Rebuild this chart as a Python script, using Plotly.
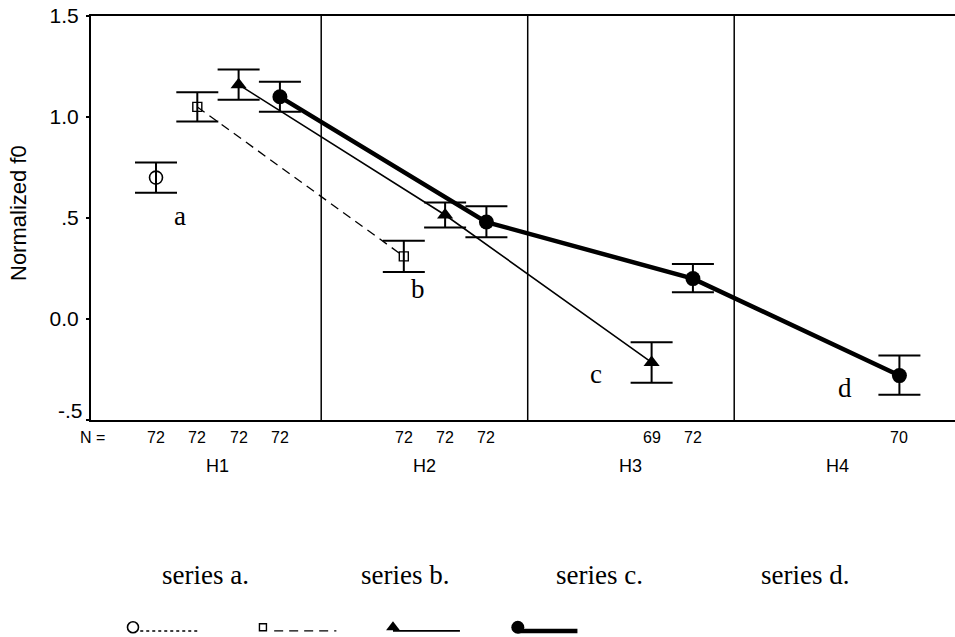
import plotly.graph_objects as go

# ---- data ----
groups = ["H1", "H2", "H3", "H4"]
series_names = ["a", "b", "c", "d"]
series_groups = {          # group index for each point of each series
    "a": [0],
    "b": [0, 1],
    "c": [0, 1, 2],
    "d": [0, 1, 2, 3],
}
means = {
    "a": [0.70],
    "b": [1.05, 0.31],
    "c": [1.16, 0.515, -0.215],
    "d": [1.10, 0.48, 0.20, -0.28],
}
err_up = {
    "a": [0.075],
    "b": [0.072, 0.077],
    "c": [0.075, 0.062, 0.100],
    "d": [0.074, 0.078, 0.072, 0.100],
}
err_down = {
    "a": [0.075],
    "b": [0.072, 0.077],
    "c": [0.075, 0.062, 0.100],
    "d": [0.074, 0.075, 0.068, 0.095],
}
n_counts = {
    "a": [72],
    "b": [72, 72],
    "c": [72, 72, 69],
    "d": [72, 72, 72, 70],
}
y_ticks = [-0.5, 0.0, 0.5, 1.0, 1.5]
y_ticklabels = ["-.5", "0.0", ".5", "1.0", "1.5"]

# ---- style ----
SANS = "Liberation Sans, Arial, sans-serif"
SERIF = "Liberation Serif, Times New Roman, serif"
SLOTS_PER_GROUP = 5
DOM_BOTTOM = 0.3494
styles = {
    "a": dict(symbol="circle-open", size=13, lw=1.5, dash="dot", mlw=1.6),
    "b": dict(symbol="square-open", size=9, lw=1.3, dash="9px,6px", mlw=1.4),
    "c": dict(symbol="triangle-up", size=14, lw=1.6, dash="solid", mlw=0),
    "d": dict(symbol="circle", size=15, lw=4.5, dash="solid", mlw=0),
}
label_shift = {"a": (24, -38), "b": (14, -33), "c": (-56, -12), "d": (-54, -12)}

def xpos(s, g):
    return SLOTS_PER_GROUP * g + series_names.index(s)

fig = go.Figure()
for s in series_names:
    st = styles[s]
    xs = [xpos(s, g) for g in series_groups[s]]
    fig.add_trace(go.Scatter(
        x=xs, y=means[s], mode="lines+markers",
        line=dict(color="black", width=st["lw"], dash=st["dash"]),
        marker=dict(symbol=st["symbol"], size=st["size"], color="black",
                    line=dict(color="black", width=st["mlw"])),
        error_y=dict(type="data", symmetric=False, array=err_up[s],
                     arrayminus=err_down[s], color="black", thickness=2, width=21),
        showlegend=False, cliponaxis=False,
    ))

annotations = []
for s in series_names:
    g = series_groups[s][-1]
    dx, dy = label_shift[s]
    annotations.append(dict(x=xpos(s, g), y=means[s][-1], xref="x", yref="y",
                            text=s, showarrow=False, xshift=dx, yshift=dy,
                            xanchor="center", yanchor="middle",
                            font=dict(family=SERIF, size=27, color="black")))
annotations.append(dict(x=-0.015, y=-0.5, xref="paper", yref="y", text="N =",
                        showarrow=False, xanchor="left", yanchor="middle", yshift=-17,
                        font=dict(family=SANS, size=16, color="black")))
for s in series_names:
    for g, n in zip(series_groups[s], n_counts[s]):
        annotations.append(dict(x=xpos(s, g), y=-0.5, xref="x", yref="y",
                                text=str(n), showarrow=False, yshift=-17,
                                xanchor="center", yanchor="middle",
                                font=dict(family=SANS, size=16, color="black")))
for gi, gname in enumerate(groups):
    annotations.append(dict(x=SLOTS_PER_GROUP * gi + 1.5, y=-0.5, xref="x", yref="y",
                            text=gname, showarrow=False, yshift=-46,
                            xanchor="center", yanchor="middle",
                            font=dict(family=SANS, size=18, color="black")))
annotations.append(dict(x=-0.0845, y=0.5, xref="paper", yref="y",
                        text="Normalized f0", textangle=-90, showarrow=False,
                        xanchor="center", yanchor="middle", yshift=5,
                        font=dict(family=SANS, size=22, color="black")))
# the lowest tick label sits a little above its tick in the original
annotations.append(dict(x=0, y=y_ticks[0], xref="paper", yref="y",
                        text=y_ticklabels[0], showarrow=False, xanchor="right",
                        yanchor="middle", xshift=-6, yshift=10,
                        font=dict(family=SANS, size=21, color="black")))

leg_text_x = [0.132, 0.363, 0.589, 0.826]
leg_mark_x = [0.0486, 0.199, 0.3495, 0.494]
leg_line_x = [(0.057, 0.126), (0.212, 0.284), (0.3495, 0.427), (0.494, 0.563)]
for i, s in enumerate(series_names):
    st = styles[s]
    annotations.append(dict(x=leg_text_x[i], y=0.286, xref="x2", yref="y2",
                            text="series %s." % s, showarrow=False,
                            xanchor="center", yanchor="middle",
                            font=dict(family=SERIF, size=27, color="black")))
    x0, x1 = leg_line_x[i]
    fig.add_trace(go.Scatter(x=[x0, x1], y=[0.028, 0.028], xaxis="x2", yaxis="y2",
                             mode="lines", showlegend=False, cliponaxis=False,
                             line=dict(color="black", width=st["lw"], dash=st["dash"])))
    fig.add_trace(go.Scatter(x=[leg_mark_x[i]], y=[0.045], xaxis="x2", yaxis="y2",
                             mode="markers", showlegend=False, cliponaxis=False,
                             marker=dict(symbol=st["symbol"], size=st["size"] - 2,
                                         color="black",
                                         line=dict(color="black", width=st["mlw"]))))

shapes = []
for gi in range(1, len(groups)):
    xs = SLOTS_PER_GROUP * gi - 1
    shapes.append(dict(type="line", xref="x", yref="y", x0=xs, x1=xs, y0=-0.5, y1=1.5,
                       line=dict(color="black", width=1.5)))

fig.update_layout(
    width=955, height=637, autosize=False,
    margin=dict(l=91, r=0, t=16, b=0, pad=0, autoexpand=False),
    paper_bgcolor="white", plot_bgcolor="white",
    xaxis=dict(range=[-1.574, 19.346], showgrid=False, zeroline=False,
               showticklabels=False, ticks="", showline=True, mirror=True,
               linecolor="black", linewidth=2, domain=[0, 1], anchor="y",
               automargin=False),
    yaxis=dict(range=[-0.5, 1.5], domain=[DOM_BOTTOM, 1], showgrid=False, zeroline=False,
               tickvals=y_ticks, ticktext=[""] + y_ticklabels[1:], ticks="outside",
               ticklen=3, tickwidth=2, tickcolor="black", showline=True,
               linecolor="black", linewidth=2, automargin=False, ticklabelstandoff=3,
               tickfont=dict(family=SANS, size=21, color="black")),
    xaxis2=dict(range=[0, 1], domain=[0, 1], anchor="y2", visible=False),
    yaxis2=dict(range=[0, 1], domain=[0, DOM_BOTTOM], anchor="x2", visible=False),
    annotations=annotations, shapes=shapes,
)

fig.write_html("out.html")
